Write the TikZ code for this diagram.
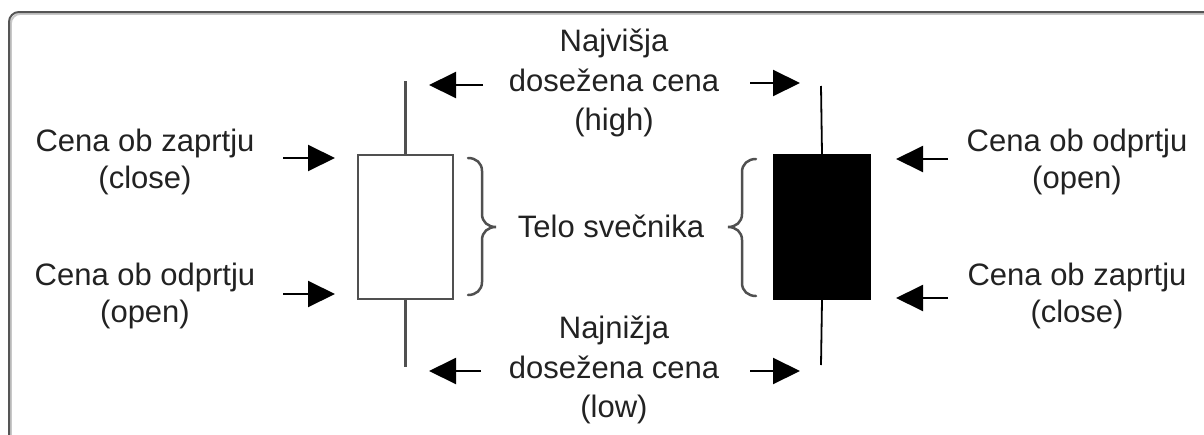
\documentclass[tikz,border=0pt]{standalone}
\usepackage{fontspec}
\setmainfont{Liberation Sans}
\usetikzlibrary{arrows.meta}
\definecolor{txt}{HTML}{222222}
\definecolor{framec}{HTML}{555555}
\definecolor{shadowc}{HTML}{C8C8C8}
\definecolor{candlec}{HTML}{505050}
\begin{document}
\begin{tikzpicture}[x=1pt,y=-1pt,
  lbl/.style={font=\fontsize{31}{39.5}\selectfont, text=txt, align=center, inner sep=0pt},
  lbl2/.style={font=\fontsize{31}{37.5}\selectfont, text=txt, align=center, inner sep=0pt},
  arr/.style={line width=2pt, -{Triangle[length=27pt,width=26pt]}},
  wbody/.style={draw=candlec, line width=2.5pt, fill=white, minimum width=95pt, minimum height=144pt, inner sep=0pt},
  bbody/.style={draw=black, fill=black, line width=1pt, minimum width=97pt, minimum height=145pt, inner sep=0pt},
  wwick/.style={draw=candlec, line width=2.5pt},
  bwick/.style={draw=black, line width=1.8pt},
  bracec/.style={draw=candlec, line width=2.5pt, line cap=round},
  framebox/.style={draw=framec, line width=2pt, rounded corners=10pt},
  frameshadow/.style={draw=shadowc, line width=2pt, rounded corners=10pt}
]
\useasboundingbox (0,0) rectangle (1204,434);
% frame
\draw[frameshadow] (10.8,13.8) rectangle (1240,470);
\draw[framebox] (9,12) rectangle (1238,468);

% candles
\coordinate (lhigh) at (405.5,81);
\coordinate (llow) at (405.5,367);
\coordinate (rhigh) at (821,86);
\coordinate (rlow) at (821,365);
\node[wbody] (lbody) at (405.5,227) {};
\node[bbody] (rbody) at (822,227) {};
\draw[wwick] (lbody.north) -- (lhigh);
\draw[wwick] (lbody.south) -- (llow);
\draw[bwick] (rbody.north) -- (rhigh);
\draw[bwick] (rbody.south) -- (rlow);

% braces
\draw[bracec] (468,158) .. controls (476,158) and (482,163) .. (482,171)
  -- (482,214) .. controls (482,222) and (488,227) .. (496,227)
  .. controls (488,227) and (482,232) .. (482,240)
  -- (482,282) .. controls (482,290) and (476,295) .. (468,295);
\draw[bracec] (756,159) .. controls (748,159) and (742,164) .. (742,172)
  -- (742,214) .. controls (742,222) and (736,227) .. (728,227)
  .. controls (736,227) and (742,232) .. (742,240)
  -- (742,283) .. controls (742,291) and (748,296) .. (756,296);

% labels
\node[lbl] (high) at (614,83) {Najvišja\\dosežena cena\\(high)};
\node[lbl] (low) at (614,370) {Najnižja\\dosežena cena\\(low)};
\node[lbl2] (telo) at (611,226) {Telo svečnika};
\node[lbl2] (lclose) at (145,162) {Cena ob zaprtju\\(close)};
\node[lbl2] (lopen) at (145,296) {Cena ob odprtju\\(open)};
\node[lbl2] (ropen) at (1077,162) {Cena ob odprtju\\(open)};
\node[lbl2] (rclose) at (1077,296) {Cena ob zaprtju\\(close)};

% arrows
\coordinate (a1s) at (283,158);  \coordinate (a1e) at (335,158);
\coordinate (a2s) at (283,294);  \coordinate (a2e) at (335,294);
\coordinate (a3s) at (483,85);   \coordinate (a3e) at (429,85);
\coordinate (a4s) at (750,83);   \coordinate (a4e) at (800,83);
\coordinate (a5s) at (481,371);  \coordinate (a5e) at (429,371);
\coordinate (a6s) at (750,371);  \coordinate (a6e) at (800,371);
\coordinate (a7s) at (948,159);  \coordinate (a7e) at (896,159);
\coordinate (a8s) at (948,298);  \coordinate (a8e) at (896,298);
\foreach \i in {1,...,8} {\draw[arr] (a\i s) -- (a\i e);}
\end{tikzpicture}
\end{document}
